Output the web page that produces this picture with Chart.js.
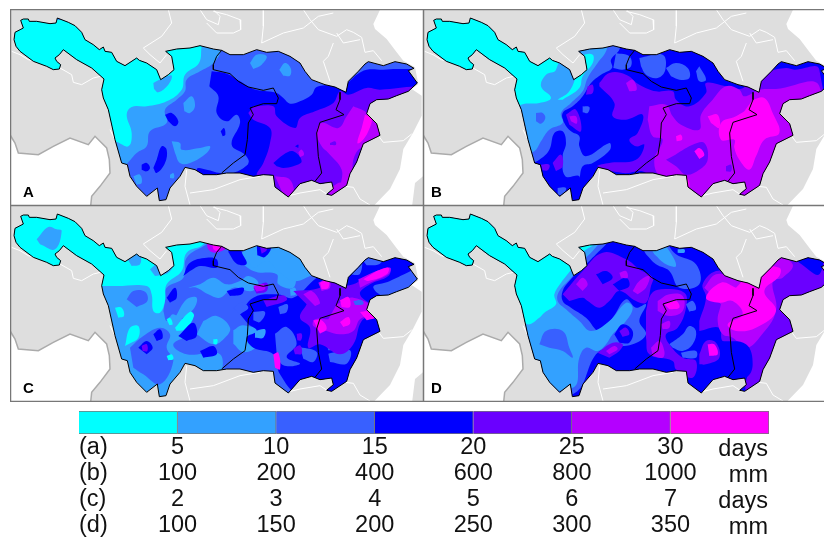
<!DOCTYPE html>
<html>
<head>
<meta charset="utf-8">
<title>Yangtze basin maps</title>
<script src="https://cdn.jsdelivr.net/npm/chart.js@4"></script>
<style>
  html, body { margin: 0; padding: 0; background: #fff; overflow: hidden; }
  #page { position: relative; width: 824px; height: 538px; overflow: hidden; font-family: "Liberation Sans", Arial, sans-serif; }
  canvas { position: absolute; }
  .letter { position: absolute; font-weight: bold; font-size: 15px; line-height: 16px; color: #000; }
  .rowText { position: absolute; font-size: 23.5px; line-height: 26px; color: #111; white-space: nowrap; }
</style>
</head>
<body>
<div id="page"></div>
<script>
// --- map data, all x,y pairs in map units ---
const levelColors = ['#00FFFF', '#33A1FF', '#3860FF', '#0000FF', '#6A00FF', '#B400FF', '#FF00FF'];

const basinOutline = [62,62,70,58,85,58,88,65,110,65,150,72,168,70,172,55,205,68,225,78,245,98,255,120,280,135,298,150,310,142,315,155,335,158,350,185,375,198,410,175,418,182,440,190,470,210,482,240,505,225,522,210,515,170,497,155,530,148,570,145,600,138,640,148,665,152,690,165,730,165,770,150,800,158,835,155,870,170,900,190,915,215,935,240,975,255,1005,262,1038,278,1045,245,1075,215,1095,193,1105,186,1150,198,1185,186,1220,193,1242,206,1225,213,1252,250,1225,275,1190,288,1165,298,1130,300,1110,312,1100,342,1130,372,1140,407,1090,432,1070,487,1050,522,1040,557,995,587,980,584,1000,567,995,547,960,552,935,542,900,552,865,592,825,562,820,527,790,525,760,530,720,520,680,520,650,525,610,525,585,510,555,503,540,530,510,565,498,600,478,603,472,565,440,590,410,560,390,530,382,495,365,490,345,420,325,330,310,295,305,270,312,238,275,205,230,180,190,150,178,165,165,175,170,185,182,195,178,208,160,210,140,200,100,185,60,155,48,140,42,120,45,98,70,85,62,62];
const innerLineWest = [665,152,650,170,640,195,640,210,690,222,715,245,745,262,790,272,820,265,835,295,830,312,790,312,750,325,760,345,745,370,742,420,735,465,700,490,665,520];
const innerLineEast = [1020,278,1020,300,1008,330,1032,345,960,368,950,400,955,470,965,520,945,545];

const seaEast = [1145,20,1120,73,1125,88,1160,118,1190,158,1210,183,1245,203,1255,253,1235,268,1265,288,1265,348,1240,398,1210,448,1200,508,1170,568,1110,630,1400,630,1400,20];
const taiwan = [1275,525,1245,550,1235,630,1275,630];
const landSouthWest = [20,405,45,430,55,460,115,465,160,440,210,415,265,435,285,410,320,445,328,480,330,520,300,560,275,590,272,630,20,630];

const countryLines = [
  [30,405,45,430,55,460,115,465,160,440,210,415,265,435,285,410,320,445,328,480,330,520,300,560,275,590,272,619]
];
const provinceLines = [
  [505,30,515,70,485,110,430,145,450,165,480,190,500,165],
  [600,30,620,60,655,75,660,50,640,30],
  [640,35,680,45,720,60,722,90,700,100,650,100,620,70],
  [790,30,790,80,785,130,850,100,910,85,955,50,1000,40],
  [910,30,930,60,955,90,1010,110,1040,90,1060,98,1085,113,1095,158,1120,153,1145,183],
  [1000,130,985,170,970,185,990,245],
  [1010,100,1030,130,1080,120],
  [35,155,60,165,85,180,180,205,215,225,220,248,245,255,280,235,310,228],
  [560,510,555,560,570,616],
  [570,580,640,570,720,540,780,530],
  [1120,388,1150,428,1210,423,1235,403],
  [1020,558,1060,563,1080,598,1110,616],
  [330,390,345,420],
  [860,590,900,580,960,570,990,590]
];

// contour layers: [colour level, x,y pairs], painted in this order
const panelA = [
  [2, [-50,-50,1400,-50,1400,700,-50,700]],
  [1, [300,100,600,130,660,150,640,190,600,215,560,240,555,275,530,300,495,330,500,370,450,395,440,440,410,460,370,500,340,500,320,300]],
  [1, [750,190,770,165,800,170,785,195,760,208]],
  [1, [838,210,855,190,872,205,870,228,850,228]],
  [1, [550,310,575,290,585,320,570,340,553,335]],
  [1, [515,425,540,430,545,450,600,445,630,440,620,460,570,490,540,490,525,460]],
  [1, [400,530,420,525,425,550,410,555]],
  [1, [510,525,520,520,522,535,510,535]],
  [0, [20,40,610,120,605,140,597,190,555,225,545,270,500,305,440,320,395,322,380,345,395,400,385,440,340,425,20,450]],
  [1, [460,250,490,235,515,228,505,255,475,278,462,268]],
  [3, [635,215,680,222,720,245,760,268,800,275,830,280,850,295,870,312,900,305,935,285,950,262,1000,255,1040,250,1070,225,1100,210,1150,210,1190,208,1250,210,1300,220,1300,640,590,640,590,510,620,510,660,520,700,520,745,490,735,465,695,435,720,370,710,345,680,365,650,340,655,290,628,260]],
  [3, [495,345,515,340,535,365,525,380,505,365]],
  [3, [470,480,485,440,500,450,495,490,470,520,460,505]],
  [3, [425,495,440,490,450,505,440,515,425,510]],
  [3, [662,395,672,385,676,405,668,410]],
  [2, [690,500,720,475,745,490,720,510]],
  [4, [760,320,820,320,830,350,885,385,900,355,945,335,1000,310,1020,275,1045,285,1100,265,1140,270,1250,260,1300,260,1300,640,820,640,820,530,790,525,770,525,790,490,810,430,810,385,760,360,745,340]],
  [3, [820,490,850,465,880,455,905,485,880,500,850,505,830,500]],
  [3, [885,440,895,435,895,445]],
  [5, [1060,320,1100,340,1140,400,1068,460,1050,550,1025,560,1025,510,985,460,965,440,950,400,965,370,1015,385,1040,350]],
  [5, [985,585,1000,560,1025,550,1030,590]],
  [5, [825,530,870,540,880,590,850,585]],
  [5, [895,458,905,450,912,465,900,472]],
  [4, [990,430,1005,425,1008,435,990,436]],
  [6, [1095,345,1115,355,1105,395,1085,425,1072,430,1085,385]]
];

const panelB = [
  [3, [-50,-50,1400,-50,1400,700,-50,700]],
  [2, [300,100,640,130,640,150,615,180,618,205,585,225,555,250,530,290,500,320,470,340,475,370,495,395,520,410,520,440,540,470,610,430,612,450,560,490,530,500,510,550,330,510,300,300]],
  [3, [365,495,400,480,430,450,445,400,470,395,480,430,470,470,478,530,520,530,510,570,470,610,440,600,410,590,370,540]],
  [2, [455,565,480,565,470,585,455,585]],
  [1, [290,100,600,130,600,155,575,190,545,235,530,275,495,310,465,340,470,370,430,390,405,425,385,455,350,460,335,440,310,400]],
  [2, [390,340,410,340,418,355,405,372,390,365]],
  [0, [0,0,500,0,450,210,420,225,405,260,435,295,400,310,345,315,315,345,300,355,0,400]],
  [0, [340,355,360,400,365,420,340,405,322,370]],
  [0, [455,300,490,275,515,215,530,170,560,165,560,190,530,230,520,265,470,300]],
  [2, [630,160,670,170,675,200,650,210,622,205]],
  [2, [700,175,770,165,778,210,755,235,720,225,705,200]],
  [2, [780,205,810,190,845,205,850,235,820,240,795,230]],
  [2, [880,200,900,240,880,245,870,215]],
  [4, [580,250,610,220,660,225,700,255,750,275,800,275,810,300,850,320,900,280,900,250,960,260,1000,268,1020,260,1050,235,1090,215,1140,205,1165,210,1240,210,1240,640,800,640,720,520,650,520,575,500,610,490,690,480,715,435,690,440,670,420,695,400,710,345,660,360,620,350,625,310,580,260]],
  [5, [730,320,780,315,800,350,825,375,880,390,885,345,920,300,960,260,1000,270,1015,290,1060,270,1110,268,1240,260,1240,640,800,640,800,540,760,530,745,480,770,420,740,410,725,360]],
  [4, [800,470,860,435,895,430,905,480,880,510,840,525,810,500,780,480]],
  [6, [865,455,880,445,895,465,880,478]],
  [4, [960,500,975,495,975,515,960,515]],
  [6, [1040,300,1075,295,1100,340,1120,400,1075,420,1050,470,1030,510,1000,480,985,445,985,420,945,420,945,370,990,350,1015,335]],
  [6, [905,350,935,345,940,385,915,370]],
  [6, [810,410,825,405,828,420,812,425]],
  [6, [800,540,840,530,850,570,830,570]],
  [4, [480,345,510,330,525,395,490,375]],
  [5, [490,350,510,350,512,372,495,365]],
  [4, [545,260,560,255,560,280,540,285]],
  [4, [440,490,465,465,470,500,450,515]],
  [4, [405,495,430,495,425,512,410,512]],
  [2, [530,320,550,322,545,340,530,338]],
  [5, [660,250,680,240,692,270,670,275]]
];

const panelC = [
  [1, [-50,-50,1400,-50,1400,700,-50,700]],
  [2, [495,340,500,300,550,270,560,210,620,170,660,140,780,130,740,180,720,210,760,250,830,260,835,290,880,300,900,240,985,235,1040,215,1100,165,1240,175,1300,300,1100,600,680,600,660,500,560,500,520,470,580,430,520,380,500,400,490,370]],
  [2, [380,335,400,310,435,312,442,340,410,358]],
  [2, [390,480,430,445,480,420,510,440,500,480,520,520,480,590,430,560,400,540]],
  [1, [600,290,640,270,680,290,720,280,745,265,775,285,755,310,700,300,660,330,625,320,590,300,565,300]],
  [1, [610,400,650,385,690,420,675,450,640,470,590,440]],
  [1, [525,390,560,335,590,330,580,365,535,400]],
  [1, [780,170,830,140,880,160,905,210,950,250,930,265,880,280,835,250,800,220,760,240,745,215]],
  [1, [700,428,730,413,790,438,770,478,730,493,700,468]],
  [0, [20,20,650,110,615,130,610,170,560,195,545,250,500,290,495,340,480,375,460,370,455,320,440,295,350,295,330,295,20,300]],
  [0, [345,360,365,360,372,385,355,390]],
  [0, [375,475,390,420,415,415,415,450,385,470]],
  [0, [525,420,570,372,582,385,555,425,530,430]],
  [0, [500,395,510,390,518,410,508,412]],
  [0, [500,505,515,500,520,515,505,518]],
  [0, [640,455,652,455,650,470,640,468]],
  [1, [110,155,145,118,170,125,185,130,165,185,120,170]],
  [1, [380,210,395,185,420,200,420,230,395,235]],
  [1, [450,245,490,215,520,225,505,255,465,265]],
  [3, [720,380,760,330,830,320,880,330,950,270,990,250,1030,260,1040,240,1090,180,1150,200,1250,230,1170,280,1120,300,1200,380,1100,600,900,620,840,560,820,500,760,480,740,450,770,430,745,410]],
  [3, [550,265,570,225,620,210,650,215,650,240,600,235,570,250]],
  [3, [690,158,720,163,725,193,740,228,710,228,685,193]],
  [3, [770,168,795,153,815,173,795,208,772,203]],
  [4, [780,178,797,170,800,188,785,198]],
  [3, [500,330,525,300,530,330,510,345]],
  [3, [680,310,730,300,725,320,690,325]],
  [3, [535,445,580,405,590,445,560,460]],
  [3, [600,490,640,475,650,500,610,510]],
  [3, [858,168,880,163,880,183,862,183]],
  [3, [415,480,440,460,458,480,440,500]],
  [3, [460,440,480,425,488,450,470,460]],
  [4, [425,475,440,470,442,490,428,490]],
  [2, [760,373,795,373,780,403,760,398]],
  [2, [835,358,862,350,860,373,840,380]],
  [2, [825,438,860,418,890,468,860,508,900,528,850,533,830,498]],
  [2, [900,478,950,493,940,523,910,513]],
  [2, [980,468,1005,458,1010,483,985,488]],
  [2, [985,498,1050,488,1040,528,990,523]],
  [2, [700,360,725,345,745,360,720,380]],
  [2, [1040,218,1080,198,1080,258,1040,258]],
  [2, [1080,208,1100,193,1150,203,1140,228,1100,233]],
  [1, [870,305,885,300,888,320,872,325]],
  [1, [765,430,795,425,790,450,765,450]],
  [1, [1000,300,1020,285,1025,310,1005,320]],
  [4, [880,310,960,300,970,275,1005,265,1020,290,1060,290,1100,265,1170,240,1165,265,1110,290,1080,320,1130,370,1085,400,1060,470,1020,500,960,470,925,480,930,420,900,390,920,350]],
  [4, [790,338,850,323,860,338,800,358]],
  [4, [760,300,800,285,800,310,770,318]],
  [4, [880,483,900,473,905,498,885,500]],
  [4, [890,438,905,438,903,458,892,458]],
  [5, [1075,275,1130,250,1170,240,1165,260,1110,285,1080,300]],
  [5, [1010,350,1060,330,1130,370,1080,395,1060,430,1020,440,980,430,940,415,945,395,985,395]],
  [5, [910,320,935,310,960,345,945,355]],
  [5, [955,285,985,275,990,300,965,310]],
  [5, [760,295,790,290,795,305,770,312]],
  [2, [1060,340,1085,338,1090,350,1065,352]],
  [6, [1130,250,1165,240,1160,260,1105,280,1090,275]],
  [6, [1020,338,1045,328,1050,358,1025,358]],
  [6, [1080,373,1130,368,1130,388,1100,398]],
  [6, [1020,403,1045,388,1050,408,1030,418]],
  [6, [940,398,965,398,980,423,960,438]],
  [6, [960,285,985,278,985,300,965,305]],
  [6, [820,500,835,495,840,545,825,540]],
  [5, [660,150,680,130,690,170,650,195,625,185,622,150]],
  [6, [635,165,670,140,680,160,650,190,640,185]]
];

const panelD = [
  [3, [-50,-50,1400,-50,1400,700,-50,700]],
  [2, [20,20,640,120,620,140,600,170,570,200,530,240,490,280,470,310,470,340,495,360,540,390,580,430,620,390,660,335,690,360,720,350,700,400,720,440,680,470,610,480,570,500,500,620,300,620]],
  [1, [20,20,610,110,590,150,560,190,530,220,500,265,460,310,455,340,480,365,520,400,555,430,610,400,660,345,680,360,660,400,620,440,600,470,575,490,540,480,520,510,500,600,300,600]],
  [2, [400,470,420,430,470,430,490,480,500,510,470,490,430,480]],
  [0, [20,20,590,115,575,160,530,195,500,240,465,285,445,320,450,350,415,375,400,390,365,410,340,380,300,300,20,300]],
  [4, [470,320,530,250,590,195,660,215,700,245,740,270,735,295,720,345,690,340,640,310,610,340,580,360,545,340,530,330,490,340]],
  [3, [570,260,600,250,620,270,590,290]],
  [3, [620,290,660,270,670,295,640,310]],
  [5, [510,290,530,270,545,290,530,310]],
  [5, [680,310,700,280,730,265,720,300,695,320]],
  [5, [640,255,660,250,665,270,645,270]],
  [3, [625,440,650,410,680,430,670,465,640,465]],
  [4, [640,430,660,420,670,440,650,448]],
  [4, [575,495,620,465,650,470,640,490,610,510]],
  [5, [600,490,625,475,635,485,610,500]],
  [2, [700,165,770,160,810,200,870,230,880,290,820,300,790,250,750,230,720,200]],
  [1, [730,175,760,160,790,190,810,235,780,230,745,200]],
  [1, [815,185,835,185,835,195,815,195]],
  [4, [720,370,735,320,765,305,835,315,840,360,815,420,780,440,790,470,830,510,870,520,860,570,810,545,800,520,730,500,720,450]],
  [5, [755,340,790,320,830,325,830,370,790,385,755,370]],
  [6, [775,350,810,340,820,360,790,365]],
  [5, [765,410,790,400,790,420,770,425]],
  [5, [735,480,760,460,775,490,770,510,740,505]],
  [4, [880,400,900,330,890,290,930,250,1000,255,1020,220,1080,165,1240,170,1300,250,1300,620,1030,620,1030,510,1000,480,950,460,940,420,880,430]],
  [5, [895,300,930,260,990,265,1000,250,1040,210,1090,190,1160,230,1130,270,1100,280,1110,370,1060,450,1020,480,980,450,950,440,935,400,945,350]],
  [6, [1000,290,1040,240,1120,240,1120,265,1075,310,1110,370,1050,420,990,430,965,410,1010,380,980,340,940,345,900,330,945,285,990,300]],
  [3, [945,460,1020,470,1040,530,1020,570,960,570,960,540,935,520]],
  [3, [1130,170,1240,175,1240,260,1180,225,1145,200]],
  [4, [880,500,900,460,930,465,940,510,900,530,880,530]],
  [6, [905,470,925,470,935,500,910,505]],
  [2, [790,470,830,440,850,415,870,430,860,470,830,490,800,480]],
  [2, [825,495,870,490,870,510,830,510]],
  [2, [840,350,860,340,870,365,850,372]]
];

const panelLetters = ['A', 'B', 'C', 'D'];
const panelLayers = [panelA, panelB, panelC, panelD];
const panelShift = [[0, 0], [21, 0], [0, 24], [21, 24]]; // each layer list

// --- colour bar data ---
const barSteps = [0, 1, 2, 3, 4, 5, 6];
const rowA = ['5', '10', '15', '20', '25', '30'];
const rowB = ['100', '200', '400', '600', '800', '1000'];
const rowC = ['2', '3', '4', '5', '6', '7'];
const rowD = ['100', '150', '200', '250', '300', '350'];
const rowNames = ['(a)', '(b)', '(c)', '(d)'];
const rowUnits = ['days', 'mm', 'days', 'mm'];

const page = document.getElementById('page');

function toPoints(flat, dx, dy) {
  const pts = [];
  for (let i = 0; i < flat.length; i += 2) pts.push({ x: flat[i] - dx, y: flat[i + 1] - dy });
  return pts;
}

// fills closed shapes from the line element's own path, optionally cut to the basin
const shapeFill = {
  id: 'shapeFill',
  beforeDatasetDraw(chart, args) {
    const ds = chart.data.datasets[args.index];
    if (!ds.shapeColor) return;
    const ctx = chart.ctx;
    const line = chart.getDatasetMeta(args.index).dataset;
    const { x, y } = chart.scales;
    line.updateControlPoints(chart.chartArea, 'x');
    ctx.save();
    if (ds.cutToBasin) {
      ctx.beginPath();
      for (let i = 0; i < basinOutline.length; i += 2) {
        ctx.lineTo(x.getPixelForValue(basinOutline[i]), y.getPixelForValue(basinOutline[i + 1]));
      }
      ctx.closePath();
      ctx.clip();
    }
    ctx.beginPath();
    line.path(ctx);
    ctx.closePath();
    ctx.fillStyle = ds.shapeColor;
    ctx.fill();
    ctx.restore();
  }
};

const panelFrame = {
  id: 'panelFrame',
  beforeDatasetsDraw(chart) {
    const a = chart.chartArea;
    chart.ctx.fillStyle = '#DEDEDE';
    chart.ctx.fillRect(a.left, a.top, a.width, a.height);
  },
  afterDraw(chart) {
    const c = chart.ctx;
    c.strokeStyle = '#777';
    c.lineWidth = 1.5;
    c.strokeRect(0.5, 0.5, 413, 196);
  }
};

function lineSet(flat, color, width, extra) {
  return Object.assign({
    data: toPoints(flat, 0, 0), showLine: true, borderColor: color, borderWidth: width,
    pointRadius: 0, fill: false, tension: 0
  }, extra);
}

function buildPanel(i) {
  const canvas = document.createElement('canvas');
  canvas.width = 413;
  canvas.height = 197;
  canvas.style.left = (i % 2 ? 423 : 10) + 'px';
  canvas.style.top = (i < 2 ? 9 : 205) + 'px';
  page.appendChild(canvas);

  const sets = [];
  sets.push(lineSet(landSouthWest, 'transparent', 0, { shapeColor: '#FFFFFF' }));
  sets.push(lineSet(seaEast, 'transparent', 0, { shapeColor: '#FFFFFF' }));
  sets.push(lineSet(taiwan, 'transparent', 0, { shapeColor: '#DEDEDE' }));
  provinceLines.forEach(l => sets.push(lineSet(l, '#FFFFFF', 1)));
  countryLines.forEach(l => sets.push(lineSet(l, '#ABABAB', 1.5)));
  panelLayers[i].forEach(layer => {
    sets.push({
      data: toPoints(layer[1], panelShift[i][0], panelShift[i][1]), showLine: true, borderWidth: 0,
      pointRadius: 0, fill: false, tension: 0.4,
      shapeColor: levelColors[layer[0]], cutToBasin: true
    });
  });
  sets.push(lineSet(innerLineWest, '#000', 1));
  sets.push(lineSet(innerLineEast, '#000', 1));
  sets.push(lineSet(basinOutline, '#000', 1));

  new Chart(canvas, {
    type: 'scatter',
    data: { datasets: sets.reverse() }, // chart.js paints the first dataset last
    plugins: [panelFrame, shapeFill],
    options: {
      responsive: false,
      animation: false,
      events: [],
      layout: { padding: 0 },
      plugins: { legend: { display: false }, tooltip: { enabled: false } },
      scales: {
        x: { type: 'linear', display: false, min: 30, max: 1269 },
        y: { type: 'linear', display: false, min: 28, max: 619, reverse: true }
      }
    }
  });

  const tag = document.createElement('div');
  tag.className = 'letter';
  tag.textContent = panelLetters[i];
  tag.style.left = (i % 2 ? 431 : 23) + 'px';
  tag.style.top = (i < 2 ? 184 : 380) + 'px';
  page.appendChild(tag);
}

function buildBar() {
  const canvas = document.createElement('canvas');
  canvas.width = 710;
  canvas.height = 133;
  canvas.style.left = '70px';
  canvas.style.top = '405px';
  page.appendChild(canvas);

  new Chart(canvas, {
    type: 'bar',
    data: {
      labels: ['scale'],
      datasets: barSteps.map(s => ({
        data: [1], backgroundColor: levelColors[s], borderColor: '#777', borderWidth: 1,
        categoryPercentage: 1, barPercentage: 1
      }))
    },
    options: {
      indexAxis: 'y',
      responsive: false,
      animation: false,
      events: [],
      layout: { padding: { left: 9, right: 11, top: 6, bottom: 0 } },
      plugins: { legend: { display: false }, tooltip: { enabled: false } },
      scales: {
        y: { stacked: true, display: false },
        x: {
          stacked: true, min: 0, max: 7,
          grid: { display: false, drawTicks: false },
          border: { display: false },
          afterFit(scale) { scale.height = 104; },
          afterBuildTicks(scale) { scale.ticks = [1, 2, 3, 4, 5, 6].map(v => ({ value: v })); },
          ticks: {
            autoSkip: false, maxRotation: 0, padding: 1, color: '#111',
            font: { family: '"Liberation Sans", Arial, sans-serif', size: 23.5, lineHeight: '25.9px' },
            callback: (v) => [rowA[v - 1], rowB[v - 1], rowC[v - 1], rowD[v - 1]]
          }
        }
      }
    }
  });

  rowNames.forEach((name, r) => {
    const left = document.createElement('div');
    left.className = 'rowText';
    left.textContent = name;
    left.style.left = '79px';
    left.style.top = (433 + r * 25.9) + 'px';
    page.appendChild(left);

    const right = document.createElement('div');
    right.className = 'rowText';
    right.textContent = rowUnits[r];
    right.style.right = (824 - 768) + 'px';
    right.style.top = (435 + r * 25.9) + 'px';
    page.appendChild(right);
  });
}

[0, 1, 2, 3].forEach(buildPanel);
buildBar();
</script>
</body>
</html>
